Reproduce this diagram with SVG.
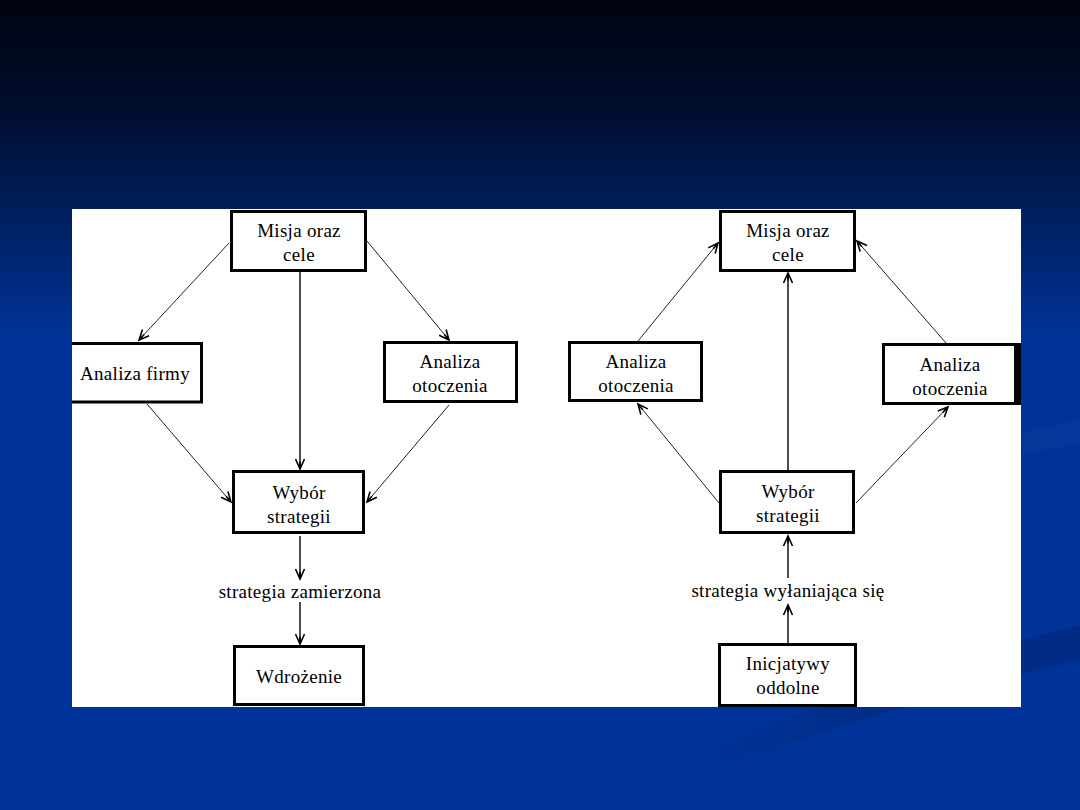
<svg xmlns="http://www.w3.org/2000/svg" width="1080" height="810" viewBox="0 0 1080 810">
<defs>
<linearGradient id="bg" x1="0" y1="0" x2="0" y2="810" gradientUnits="userSpaceOnUse">
<stop offset="0" stop-color="#000410"/>
<stop offset="0.13" stop-color="#000d2c"/>
<stop offset="0.26" stop-color="#001f5c"/>
<stop offset="0.42" stop-color="#00339a"/>
<stop offset="1" stop-color="#003399"/>
</linearGradient>
<linearGradient id="sw" x1="690" y1="0" x2="1080" y2="0" gradientUnits="userSpaceOnUse">
<stop offset="0" stop-color="#002a80" stop-opacity="0"/>
<stop offset="0.4" stop-color="#002a80" stop-opacity="0.6"/>
<stop offset="1" stop-color="#002a80" stop-opacity="0.8"/>
</linearGradient>
<clipPath id="panelClip"><rect x="72" y="209" width="949" height="498"/></clipPath>
<marker id="arr" markerUnits="userSpaceOnUse" markerWidth="12" markerHeight="12" refX="10" refY="5" orient="auto" viewBox="0 0 12 10" overflow="visible">
<path d="M0,0.5 L10,5 L0,9.5 M2.5,5 L10,5" fill="none" stroke="#000" stroke-width="1.6"/>
</marker>
<style>
.box{fill:#fff;stroke:#000;stroke-width:3}
.t{font-family:"Liberation Serif","Times New Roman",serif;font-size:19px;letter-spacing:0.3px;fill:#000;text-anchor:middle}
.c{fill:none;stroke:#222;stroke-width:1;marker-end:url(#arr)}
.v{fill:none;stroke:#222;stroke-width:1.6;marker-end:url(#arr)}
</style>
</defs>
<rect x="0" y="0" width="1080" height="810" fill="url(#bg)"/>
<path d="M1080,420 C1050,426 1020,432 990,440 L990,462 C1020,455 1050,449 1080,444 Z" fill="#ffffff" opacity="0.02"/>
<path d="M1080,625 C960,655 830,700 690,755 L690,780 C830,728 960,688 1080,660 Z" fill="url(#sw)"/>
<rect x="72" y="209" width="949" height="498" fill="#fff"/>
<g clip-path="url(#panelClip)">
<g id="connectors">
<line class="c" x1="229" y1="243" x2="139" y2="340"/>
<line class="c" x1="367" y1="241" x2="449" y2="340"/>
<line class="v" x1="300" y1="272" x2="300" y2="469"/>
<line class="c" x1="147" y1="404" x2="231" y2="502"/>
<line class="c" x1="449" y1="405" x2="367" y2="502"/>
<line class="v" x1="300" y1="536" x2="300" y2="579"/>
<line class="v" x1="300" y1="602" x2="300" y2="644"/>
<line class="c" x1="638" y1="341" x2="718" y2="243"/>
<line class="v" x1="788" y1="470" x2="788" y2="273"/>
<line class="c" x1="946" y1="343" x2="857" y2="241"/>
<line class="c" x1="719" y1="503" x2="638" y2="404"/>
<line class="c" x1="856" y1="503" x2="948" y2="407"/>
<line class="v" x1="788" y1="578" x2="788" y2="536"/>
<line class="v" x1="788" y1="643" x2="788" y2="605"/>
</g>
<g id="l-misja"><rect class="box" x="231.5" y="211.5" width="134" height="59"/><text class="t" x="299" y="237">Misja oraz</text><text class="t" x="299" y="261">cele</text></g>
<g id="l-firma"><rect class="box" x="60" y="343.5" width="141.5" height="58.5"/><text class="t" x="135" y="380">Analiza firmy</text></g>
<g id="l-otoczenie"><rect class="box" x="384.5" y="342.5" width="132" height="59"/><text class="t" x="450" y="368">Analiza</text><text class="t" x="450" y="392">otoczenia</text></g>
<g id="l-wybor"><rect class="box" x="233.5" y="471.5" width="130" height="61"/><text class="t" x="299" y="499">Wybór</text><text class="t" x="299" y="523">strategii</text></g>
<g id="l-label"><text class="t" x="300" y="598">strategia zamierzona</text></g>
<g id="l-wdrozenie"><rect class="box" x="234.5" y="646.5" width="129" height="58"/><text class="t" x="299" y="683">Wdrożenie</text></g>
<g id="r-misja"><rect class="box" x="720.5" y="211.5" width="134" height="59"/><text class="t" x="788" y="237">Misja oraz</text><text class="t" x="788" y="261">cele</text></g>
<g id="r-otoczenie1"><rect class="box" x="569.5" y="342.5" width="132" height="58"/><text class="t" x="636" y="368">Analiza</text><text class="t" x="636" y="392">otoczenia</text></g>
<g id="r-otoczenie2"><rect class="box" x="883.5" y="344.5" width="132" height="59"/><rect x="1017" y="343" width="4" height="62" fill="#000"/><text class="t" x="950" y="371">Analiza</text><text class="t" x="950" y="395">otoczenia</text></g>
<g id="r-wybor"><rect class="box" x="720.5" y="471.5" width="133" height="61"/><text class="t" x="788" y="498">Wybór</text><text class="t" x="788" y="522">strategii</text></g>
<g id="r-label"><text class="t" x="788" y="597">strategia wyłaniająca się</text></g>
<g id="r-inicjatywy"><rect class="box" x="719.5" y="644.5" width="136" height="61"/><text class="t" x="788" y="670">Inicjatywy</text><text class="t" x="788" y="694">oddolne</text></g>
</g>
</svg>
